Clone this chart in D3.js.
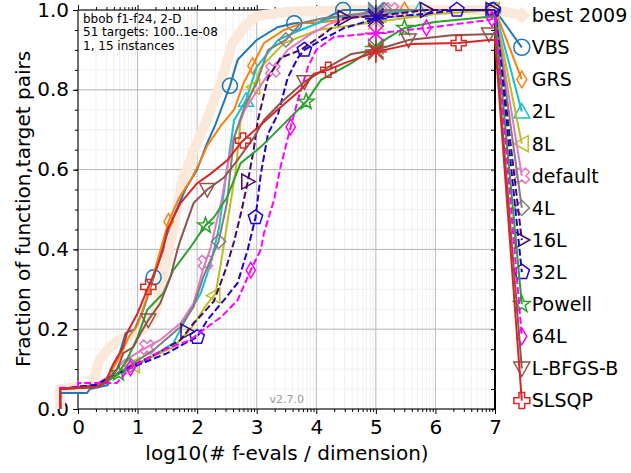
<!DOCTYPE html>
<html>
<head>
<meta charset="utf-8">
<script src="https://cdn.jsdelivr.net/npm/d3@7"></script>
<style>
  body { margin: 0; background: #fff; }
  svg { display: block; font-family: 'DejaVu Sans', sans-serif; }
</style>
</head>
<body>
<div id="chart"></div>
<script>
const xTicks = [0, 1, 2, 3, 4, 5, 6, 7];
const yTicks = [0, 0.2, 0.4, 0.6, 0.8, 1.0];
const yTickLabels = ['0.0', '0.2', '0.4', '0.6', '0.8', '1.0'];
const infoLines = ['bbob f1-f24, 2-D', '51 targets: 100..1e-08', '1, 15 instances'];
const algNames = ['best 2009', 'VBS', 'GRS', '2L', '8L', 'default', '4L', '16L', '32L', 'Powell', '64L', 'L-BFGS-B', 'SLSQP'];
const budgetX = 5;

// ECDF curves as [log10(# f-evals / dim), fraction of pairs]
const best2009 = [[-0.3,0],[-0.3,0.05],[0.25,0.06],[0.35,0.12],[0.5,0.15],[0.65,0.17],[1.1,0.2],[1.3,0.24],[1.45,0.35],[1.6,0.45],[1.75,0.57],[1.95,0.65],[2.15,0.72],[2.4,0.82],[2.6,0.92],[2.8,0.96],[3.0,0.985],[3.5,0.995],[4.5,1],[7,1]];
const vbs = [[-0.3,0],[-0.3,0.04],[0.15,0.04],[0.2,0.05],[0.5,0.06],[0.55,0.1],[0.7,0.14],[0.8,0.19],[0.95,0.2],[1.1,0.25],[1.27,0.33],[1.45,0.42],[1.6,0.48],[1.8,0.55],[2.0,0.6],[2.15,0.66],[2.3,0.71],[2.45,0.77],[2.55,0.81],[2.68,0.875],[3.0,0.925],[3.35,0.957],[3.63,0.967],[4.03,0.968],[4.3,0.99],[4.45,1],[7,1]];
const grs = [[-0.3,0],[-0.3,0.05],[0.3,0.06],[0.5,0.08],[0.7,0.13],[0.85,0.18],[1.0,0.21],[1.2,0.3],[1.35,0.38],[1.52,0.47],[1.7,0.53],[1.89,0.574],[2.05,0.62],[2.17,0.66],[2.4,0.71],[2.62,0.75],[2.78,0.817],[2.93,0.86],[3.12,0.917],[3.46,0.95],[3.75,0.967],[4.13,0.97],[4.6,0.98],[5.0,0.99],[5.48,1],[7,1]];
const l2 = [[-0.3,0],[-0.3,0.05],[0.3,0.06],[0.6,0.08],[0.76,0.098],[1.16,0.123],[1.6,0.165],[1.89,0.248],[2.06,0.29],[2.23,0.366],[2.37,0.456],[2.5,0.6],[2.62,0.724],[2.82,0.774],[3.0,0.857],[3.36,0.925],[3.74,0.95],[4.25,0.98],[5.0,0.99],[5.73,1],[7,1]];
const l8 = [[-0.3,0],[-0.3,0.05],[0.3,0.06],[0.6,0.08],[0.93,0.11],[1.16,0.125],[1.6,0.155],[1.89,0.2],[2.15,0.26],[2.31,0.29],[2.4,0.366],[2.51,0.47],[2.65,0.6],[2.73,0.724],[2.95,0.807],[3.07,0.857],[3.46,0.917],[4.03,0.95],[5.0,0.97],[6.0,0.99],[7,1]];
const deflt = [[-0.3,0],[-0.3,0.05],[0.3,0.06],[0.6,0.09],[0.76,0.12],[1.16,0.155],[1.38,0.173],[1.72,0.215],[1.94,0.265],[2.1,0.35],[2.23,0.406],[2.4,0.516],[2.5,0.6],[2.6,0.674],[2.8,0.75],[3.15,0.83],[3.27,0.85],[3.52,0.9],[3.91,0.94],[4.25,0.967],[4.8,0.99],[5.26,1],[7,1]];
const l4 = [[-0.3,0],[-0.3,0.05],[0.3,0.06],[0.6,0.08],[0.88,0.11],[1.27,0.148],[1.72,0.206],[1.94,0.256],[2.1,0.33],[2.36,0.42],[2.5,0.516],[2.56,0.6],[2.62,0.68],[2.8,0.76],[3.0,0.817],[3.19,0.9],[3.49,0.925],[3.74,0.967],[4.13,0.98],[4.7,0.99],[5.15,1],[7,1]];
const l16 = [[-0.3,0],[-0.3,0.05],[0.3,0.06],[0.6,0.085],[1.0,0.115],[1.4,0.145],[1.72,0.173],[1.94,0.215],[2.1,0.24],[2.28,0.27],[2.48,0.35],[2.62,0.42],[2.75,0.5],[2.85,0.57],[2.95,0.65],[3.02,0.724],[3.19,0.83],[3.4,0.88],[3.74,0.9],[4.13,0.94],[4.47,0.98],[5.0,0.985],[5.85,1],[7,1]];
const l32 = [[-0.3,0],[-0.3,0.05],[0.3,0.06],[0.6,0.085],[1.0,0.11],[1.5,0.14],[1.8,0.165],[2.0,0.18],[2.17,0.223],[2.45,0.273],[2.68,0.316],[2.85,0.4],[2.98,0.48],[3.07,0.59],[3.19,0.69],[3.36,0.74],[3.52,0.83],[3.69,0.88],[3.8,0.9],[4.13,0.928],[4.47,0.955],[5.04,0.98],[5.8,0.99],[6.36,1],[7,1]];
const powell = [[-0.3,0],[-0.3,0.05],[0.3,0.055],[0.5,0.07],[0.68,0.09],[0.82,0.123],[1.0,0.18],[1.16,0.248],[1.43,0.29],[1.6,0.348],[1.89,0.406],[2.14,0.46],[2.28,0.48],[2.5,0.53],[2.73,0.616],[3.07,0.657],[3.52,0.724],[3.83,0.77],[4.08,0.825],[4.59,0.867],[4.92,0.9],[5.2,0.93],[5.48,0.955],[5.99,0.97],[6.9,0.983],[7,0.985]];
const l64 = [[-0.3,0],[-0.3,0.053],[0.0,0.053],[0.0,0.065],[0.65,0.065],[0.88,0.103],[1.43,0.148],[1.89,0.173],[2.1,0.198],[2.4,0.23],[2.68,0.273],[2.9,0.348],[3.07,0.4],[3.12,0.44],[3.29,0.524],[3.4,0.607],[3.57,0.707],[3.69,0.774],[3.86,0.857],[4.0,0.9],[4.3,0.933],[5.04,0.942],[5.85,0.955],[6.9,0.975],[7,0.98]];
const lbfgsb = [[-0.3,0],[-0.3,0.05],[0.3,0.055],[0.45,0.065],[0.66,0.1],[0.76,0.14],[0.93,0.155],[1.05,0.19],[1.18,0.223],[1.38,0.265],[1.55,0.33],[1.67,0.4],[1.72,0.424],[1.94,0.516],[2.17,0.55],[2.45,0.58],[2.68,0.624],[2.95,0.68],[3.12,0.724],[3.4,0.767],[3.8,0.82],[4.2,0.857],[4.59,0.89],[5.0,0.9],[5.55,0.925],[6.27,0.937],[7,0.94]];
const slsqp = [[-0.3,0],[-0.3,0.05],[0.3,0.055],[0.45,0.065],[0.6,0.115],[0.76,0.155],[0.82,0.19],[1.0,0.24],[1.18,0.306],[1.33,0.356],[1.43,0.4],[1.5,0.449],[1.72,0.516],[2.0,0.566],[2.23,0.59],[2.51,0.624],[2.75,0.67],[3.35,0.75],[3.74,0.8],[3.96,0.84],[4.2,0.85],[4.47,0.867],[5.0,0.895],[5.6,0.915],[6.39,0.917],[6.9,0.925],[7,0.925]];

// x positions of markers along each curve
const vbsMarks = [1.27, 2.55, 3.63, 4.45, 6.97];
const grsMarks = [1.52, 2.93, 5.48];
const l2Marks = [2.82, 5.73];
const l8Marks = [0.93, 2.28, 2.95, 6.97];
const defltMarks = [1.16, 2.14, 3.27, 5.26];
const l4Marks = [0.88, 2.36, 3.49, 5.15];
const l16Marks = [1.83, 2.85, 4.47, 5.85, 6.95];
const l32Marks = [2.0, 2.98, 3.8, 6.36, 6.97];
const powellMarks = [0.68, 2.14, 3.83, 5.48];
const l64Marks = [0.88, 2.9, 3.57, 5.85, 6.95];
const lbfgsbMarks = [1.18, 2.17, 3.8, 5.55, 6.9];
const slsqpMarks = [1.18, 2.77, 4.2, 6.39];

const width = 631;
const height = 473;
const margin = { top: 10, right: 138, bottom: 64, left: 78 };

const series = [
  { name: algNames[1], pts: vbs, marks: vbsMarks, color: '#1f77b4', sym: 'o' },
  { name: algNames[2], pts: grs, marks: grsMarks, color: '#ff7f0e', sym: 'd' },
  { name: algNames[3], pts: l2, marks: l2Marks, color: '#17becf', sym: '^' },
  { name: algNames[4], pts: l8, marks: l8Marks, color: '#bcbd22', sym: '<' },
  { name: algNames[5], pts: deflt, marks: defltMarks, color: '#e377c2', sym: 'X' },
  { name: algNames[6], pts: l4, marks: l4Marks, color: '#7f7f7f', sym: 'D' },
  { name: algNames[7], pts: l16, marks: l16Marks, color: '#440a68', sym: '>', dash: '7,3' },
  { name: algNames[8], pts: l32, marks: l32Marks, color: '#2200cc', sym: 'p', dash: '7,3' },
  { name: algNames[9], pts: powell, marks: powellMarks, color: '#2ca02c', sym: '*' },
  { name: algNames[10], pts: l64, marks: l64Marks, color: '#ff00ff', sym: 'd', dash: '7,3' },
  { name: algNames[11], pts: lbfgsb, marks: lbfgsbMarks, color: '#8c564b', sym: 'v' },
  { name: algNames[12], pts: slsqp, marks: slsqpMarks, color: '#d62728', sym: 'P' },
];

const svg = d3.select('#chart').append('svg')
  .attr('width', width)
  .attr('height', height);

const x = d3.scaleLinear().domain([0, 7]).range([margin.left, width - margin.right + 2]);
const y = d3.scaleLinear().domain([0, 1]).range([height - margin.bottom, margin.top]);
const legendX = 7.45;
const legendY = (i) => 0.987 - i * 0.0805;

// grid
const minorX = [];
for (let k = 0; k < 7; k++) for (let m = 2; m < 10; m++) minorX.push(k + Math.log10(m));
const minorY = d3.range(0.05, 1, 0.05);
const grid = svg.append('g');
grid.selectAll('.mx').data(minorX).enter().append('line')
  .attr('x1', (d) => x(d)).attr('x2', (d) => x(d))
  .attr('y1', y(0)).attr('y2', y(1))
  .attr('stroke', '#ececec').attr('stroke-width', 0.8);
grid.selectAll('.my').data(minorY).enter().append('line')
  .attr('x1', x(0)).attr('x2', x(7))
  .attr('y1', (d) => y(d)).attr('y2', (d) => y(d))
  .attr('stroke', '#ececec').attr('stroke-width', 0.8);
grid.selectAll('.gx').data(xTicks).enter().append('line')
  .attr('x1', (d) => x(d)).attr('x2', (d) => x(d))
  .attr('y1', y(0)).attr('y2', y(1))
  .attr('stroke', '#b8b8b8').attr('stroke-width', 1);
grid.selectAll('.gy').data(yTicks).enter().append('line')
  .attr('x1', x(0)).attr('x2', x(7))
  .attr('y1', (d) => y(d)).attr('y2', (d) => y(d))
  .attr('stroke', '#b8b8b8').attr('stroke-width', 1);

// axes
const fmtX = (d) => String(d);
svg.append('g').attr('transform', `translate(0,${y(0)})`)
  .call(d3.axisBottom(x).tickValues(xTicks).tickFormat(fmtX).tickSize(5).tickPadding(6))
  .call((g) => g.select('.domain').remove())
  .selectAll('text').style('font-size', '20px').style('font-family', 'DejaVu Sans');
svg.append('g').attr('transform', `translate(0,${y(0)})`)
  .call(d3.axisBottom(x).tickValues(minorX).tickFormat('').tickSize(3))
  .call((g) => g.select('.domain').remove());
svg.append('g').attr('transform', `translate(0,${y(1)})`)
  .call(d3.axisTop(x).tickValues(xTicks).tickFormat('').tickSize(5))
  .call((g) => g.select('.domain').remove());
svg.append('g').attr('transform', `translate(0,${y(1)})`)
  .call(d3.axisTop(x).tickValues(minorX).tickFormat('').tickSize(3))
  .call((g) => g.select('.domain').remove());
svg.append('g').attr('transform', `translate(${x(0)},0)`)
  .call(d3.axisLeft(y).tickValues(yTicks).tickFormat((d, i) => yTickLabels[i]).tickSize(5).tickPadding(4))
  .call((g) => g.select('.domain').remove())
  .selectAll('text').style('font-size', '20px').style('font-family', 'DejaVu Sans').attr('dy', '0.3em');
svg.append('g').attr('transform', `translate(${x(0)},0)`)
  .call(d3.axisLeft(y).tickValues(minorY).tickFormat('').tickSize(3))
  .call((g) => g.select('.domain').remove());
svg.append('g').attr('transform', `translate(${x(7)},0)`)
  .call(d3.axisLeft(y).tickValues(d3.range(0, 1.01, 0.05)).tickFormat('').tickSize(4))
  .call((g) => g.select('.domain').remove());

// frame
svg.append('rect')
  .attr('x', x(0)).attr('y', y(1))
  .attr('width', x(7) - x(0)).attr('height', y(0) - y(1))
  .attr('fill', 'none').attr('stroke', '#000').attr('stroke-width', 1);
svg.append('line')
  .attr('x1', x(7)).attr('x2', x(7)).attr('y1', y(0)).attr('y2', y(1))
  .attr('stroke', '#000').attr('stroke-width', 2);

// texts
svg.append('g').selectAll('text').data(infoLines).enter().append('text')
  .attr('x', x(0) + 5).attr('y', (d, i) => 23 + i * 13.4)
  .style('font-size', '12px').text((d) => d);
svg.append('text')
  .attr('x', 304).attr('y', 403).attr('text-anchor', 'end')
  .attr('fill', '#999').style('font-size', '11px').text('v2.7.0');
svg.append('text')
  .attr('x', 287).attr('y', 460).attr('text-anchor', 'middle')
  .style('font-size', '20px').text('log10(# f-evals / dimension)');
svg.append('text')
  .attr('transform', 'translate(30,209) rotate(-90)')
  .attr('text-anchor', 'middle')
  .style('font-size', '20px').text('Fraction of function,target pairs');

// marker shapes
function symbolPath(sym, r) {
  const poly = (p) => 'M' + p.map((q) => q[0].toFixed(2) + ',' + q[1].toFixed(2)).join('L') + 'Z';
  const rot = (p, a) => p.map((q) => [q[0] * Math.cos(a) - q[1] * Math.sin(a), q[0] * Math.sin(a) + q[1] * Math.cos(a)]);
  switch (sym) {
    case 'o':
      return `M${r},0A${r},${r} 0 1,1 ${-r},0A${r},${r} 0 1,1 ${r},0Z`;
    case 'd':
      return poly([[0, -r * 1.05], [r * 0.62, 0], [0, r * 1.05], [-r * 0.62, 0]]);
    case 'D':
      return poly([[0, -r * 0.95], [r * 0.95, 0], [0, r * 0.95], [-r * 0.95, 0]]);
    case '^':
      return poly([[0, -r], [r, r * 0.8], [-r, r * 0.8]]);
    case 'v':
      return poly([[0, r], [r, -r * 0.8], [-r, -r * 0.8]]);
    case '<':
      return poly([[-r, 0], [r * 0.8, -r], [r * 0.8, r]]);
    case '>':
      return poly([[r, 0], [-r * 0.8, -r], [-r * 0.8, r]]);
    case 'p':
      return poly(d3.range(5).map((i) => {
        const a = -Math.PI / 2 + i * 2 * Math.PI / 5;
        return [r * Math.cos(a), r * Math.sin(a)];
      }));
    case '*':
      return poly(d3.range(10).map((i) => {
        const a = -Math.PI / 2 + i * Math.PI / 5;
        const rr = i % 2 === 0 ? r * 1.1 : r * 0.45;
        return [rr * Math.cos(a), rr * Math.sin(a)];
      }));
    case 'P':
    case 'X': {
      const w = r * 0.36;
      const p = [[-w, -r], [w, -r], [w, -w], [r, -w], [r, w], [w, w], [w, r], [-w, r], [-w, w], [-r, w], [-r, -w], [-w, -w]];
      return poly(sym === 'X' ? rot(p, Math.PI / 4) : p);
    }
    case 'asterisk':
      return d3.range(4).map((i) => {
        const a = i * Math.PI / 4;
        const c = r * Math.cos(a), s = r * Math.sin(a);
        return `M${(-c).toFixed(2)},${(-s).toFixed(2)}L${c.toFixed(2)},${s.toFixed(2)}`;
      }).join('');
  }
  return '';
}

function interp(pts, xv) {
  for (let i = 1; i < pts.length; i++) {
    if (pts[i][0] >= xv && pts[i - 1][0] <= xv) {
      const [x0, y0] = pts[i - 1], [x1, y1] = pts[i];
      return x1 === x0 ? y1 : y0 + (y1 - y0) * (xv - x0) / (x1 - x0);
    }
  }
  return pts[pts.length - 1][1];
}

const line = d3.line().x((d) => x(d[0])).y((d) => y(d[1]));

// best 2009 band
svg.append('path')
  .datum(best2009.concat([[legendX, legendY(0)]]))
  .attr('d', line)
  .attr('fill', 'none')
  .attr('stroke', '#fae9da')
  .attr('stroke-width', 10).attr('stroke-linejoin', 'round');
svg.append('path')
  .attr('transform', `translate(${x(legendX)},${y(legendY(0))})`)
  .attr('d', symbolPath('D', 9))
  .attr('fill', '#fae9da');

// series curves
const curves = svg.append('g');
series.forEach((s, i) => {
  const end = s.pts[s.pts.length - 1];
  const g = curves.append('g');
  g.append('path')
    .datum(s.pts)
    .attr('d', line)
    .attr('fill', 'none')
    .attr('stroke', s.color)
    .attr('stroke-width', 2)
    .attr('stroke-dasharray', s.dash || null);
  g.append('path')
    .datum([end, [legendX, legendY(i + 1)]])
    .attr('d', line)
    .attr('fill', 'none')
    .attr('stroke', s.color)
    .attr('stroke-width', 2)
    .attr('stroke-dasharray', s.dash || null);
  g.selectAll('.mk').data(s.marks).enter().append('path')
    .attr('transform', (d) => `translate(${x(d)},${y(interp(s.pts, d))})`)
    .attr('d', symbolPath(s.sym, 7.5))
    .attr('fill', 'none')
    .attr('stroke', s.color)
    .attr('stroke-width', 1.5);
  g.append('path')
    .attr('transform', `translate(${x(budgetX)},${y(interp(s.pts, budgetX))})`)
    .attr('d', symbolPath('asterisk', 11))
    .attr('fill', 'none')
    .attr('stroke', s.color)
    .attr('stroke-width', 1.5);
  g.append('path')
    .attr('transform', `translate(${x(legendX)},${y(legendY(i + 1))})`)
    .attr('d', symbolPath(s.sym, 8))
    .attr('fill', 'none')
    .attr('stroke', s.color)
    .attr('stroke-width', 1.5);
});

// legend labels
svg.append('g').selectAll('text').data(algNames).enter().append('text')
  .attr('x', x(legendX) + 10)
  .attr('y', (d, i) => y(legendY(i)))
  .attr('dy', '0.36em')
  .style('font-size', '19px')
  .text((d) => d);
</script>
</body>
</html>
